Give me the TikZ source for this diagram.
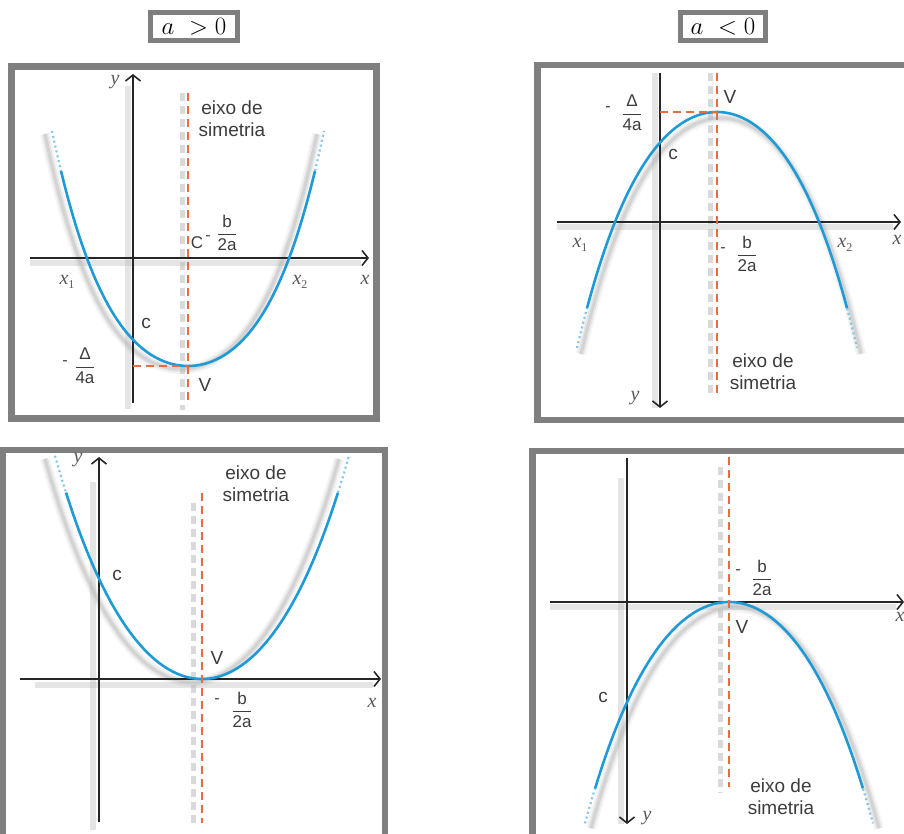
\documentclass[tikz,border=0pt]{standalone}
\usepackage{amsmath}
\usepackage{fontspec}
\setmainfont{Liberation Sans}
\newfontfamily\serifit{Liberation Serif}
\usetikzlibrary{arrows.meta}
\definecolor{frameGray}{HTML}{7F7F7F}
\definecolor{curveBlue}{HTML}{1E9AD6}
\definecolor{symOrange}{HTML}{EC6A3E}
\definecolor{labelGray}{HTML}{3C3C3C}
\definecolor{shadeGray}{HTML}{B4B4B4}
\newcommand\vfrac[2]{$\displaystyle\frac{\mbox{#1}}{\mbox{#2}}$}
\newcommand\rootlab[1]{x\raisebox{-4pt}{\fontsize{12}{12}\selectfont\upshape#1}}

\begin{document}
\begin{tikzpicture}[
    x=1pt, y=-1pt,
    panel/.style={draw=frameGray, line width=6.5pt},
    title/.style={draw=frameGray, line width=5pt, fill=white, minimum height=28pt, inner sep=0pt, font=\fontsize{28}{28}\selectfont},
    axis/.style={line width=1.6pt, draw=black!85, -{Straight Barb[length=6pt,width=15pt,line width=1.6pt]}},
    axshade/.style={line width=6pt, draw=shadeGray, opacity=0.35},
    curve/.style={draw=curveBlue, line width=2.6pt},
    curvetip/.style={draw=curveBlue!55, line width=2.2pt, dash pattern=on 2pt off 3pt},
    curveshade/.style={draw=shadeGray},
    symline/.style={draw=symOrange, line width=2.6pt, dash pattern=on 8pt off 5pt},
    symshade/.style={draw=shadeGray, line width=5pt, dash pattern=on 8pt off 5pt, opacity=0.5},
    lbl/.style={text=labelGray, font=\fontsize{19}{22}\selectfont, inner sep=0pt},
    var/.style={text=labelGray!85, font=\serifit\fontsize{20}{20}\selectfont\itshape, inner sep=0pt},
    frac/.style={text=labelGray, font=\fontsize{17}{19}\selectfont, inner sep=0pt},
    minus/.style={text=labelGray, font=\fontsize{16}{16}\selectfont, inner sep=0pt},
    declare function={bow(\u,\a,\b)=\a*\u*\u+\b*\u*\u*\u*\u;}
]
    \clip (0,0) rectangle (904,834);

    % Titles
    \node[title, minimum width=87pt] (pos) at (194,26.5) {$a\ >0$};
    \node[title, minimum width=85pt] (neg) at (723,26.5) {$a\ <0$};

    % Panel 1: a > 0, two roots
    \draw[panel] (11.5,66.5) rectangle (376.5,418.5);
    \coordinate (p1xl) at (30,258);  \coordinate (p1xr) at (369,258);
    \coordinate (p1yb) at (133,403); \coordinate (p1yt) at (133,74);
    \coordinate (p1st) at (188,93);  \coordinate (p1sb) at (188,405);
    \coordinate (p1vtx) at (188,366); \coordinate (p1yv) at (133,366);
    \draw[axshade] ([shift={(0,5)}]p1xl) -- ([shift={(-8,5)}]p1xr);
    \draw[axshade] ([shift={(-5,6)}]p1yb) -- ([shift={(-5,12)}]p1yt);
    \draw[symshade] ([xshift=-6]p1st) -- ([shift={(-6,5)}]p1sb);
    \foreach \w/\o in {10/0.15,6/0.25,3/0.35}
        \draw[curveshade, line width=\w pt, opacity=\o] plot[domain=-1.36:1.36, samples=60, smooth] ({181+100*\x},{369-bow(\x,79,26)});
    \draw[axis] (p1xl) -- (p1xr);
    \draw[axis] (p1yb) -- (p1yt);
    \draw[curve] plot[domain=-1.27:1.27, samples=60, smooth] ({188+100*\x},{366-bow(\x,79,26)});
    \draw[curvetip] plot[domain=-1.36:-1.27, samples=6] ({188+100*\x},{366-bow(\x,79,26)});
    \draw[curvetip] plot[domain=1.27:1.36, samples=6] ({188+100*\x},{366-bow(\x,79,26)});
    \draw[symline] (p1st) -- (p1sb);
    \draw[symline] (p1yv) -- (p1vtx);
    \node[lbl, align=center, anchor=north] (p1eixo) at (232,101) {eixo de\\simetria};
    \node[var] (p1y) at (115,82) {y};
    \node[var] (p1x) at (365,280) {x};
    \node[var] (p1x1) at (67,282) {\rootlab{1}};
    \node[var] (p1x2) at (300,282) {\rootlab{2}};
    \node[lbl] (p1c) at (146,323) {c};
    \node[lbl] (p1V) at (205,385) {V};
    \node[frac] (p1C) at (197,243) {C};
    \node[minus] (p1bm) at (208,238) {-};
    \node[frac] (p1b) at (227,233) {\vfrac{b}{2a}};
    \node[minus] (p1dm) at (65,363) {-};
    \node[frac] (p1d) at (85,366) {\vfrac{Δ}{4a}};

    % Panel 2: a < 0, two roots
    \draw[panel] (537.5,65) rectangle (912,420);
    \coordinate (p2xl) at (557,222);  \coordinate (p2xr) at (901,222);
    \coordinate (p2yt) at (660,73);   \coordinate (p2yb) at (660,408);
    \coordinate (p2st) at (717,73);   \coordinate (p2sb) at (717,393);
    \coordinate (p2vtx) at (717,112); \coordinate (p2yv) at (660,112);
    \draw[axshade] ([shift={(0,5)}]p2xl) -- ([shift={(-8,5)}]p2xr);
    \draw[axshade] ([shift={(-5,0)}]p2yt) -- ([shift={(-5,0)}]p2yb);
    \draw[symshade] ([xshift=-7]p2st) -- ([shift={(-7,2)}]p2sb);
    \foreach \w/\o in {10/0.15,6/0.25,3/0.35}
        \draw[curveshade, line width=\w pt, opacity=\o] plot[domain=-1.40:1.40, samples=60, smooth] ({721+100*\x},{118+bow(\x,89,16)});
    \draw[axis] (p2xl) -- (p2xr);
    \draw[axis] (p2yt) -- (p2yb);
    \draw[curve] plot[domain=-1.30:1.30, samples=60, smooth] ({717+100*\x},{112+bow(\x,89,16)});
    \draw[curvetip] plot[domain=-1.40:-1.30, samples=6] ({717+100*\x},{112+bow(\x,89,16)});
    \draw[curvetip] plot[domain=1.30:1.40, samples=6] ({717+100*\x},{112+bow(\x,89,16)});
    \draw[symline] (p2st) -- (p2sb);
    \draw[symline] (p2yv) -- (p2vtx);
    \node[lbl, align=center, anchor=north] (p2eixo) at (763,354) {eixo de\\simetria};
    \node[var] (p2y) at (635,398) {y};
    \node[var] (p2x) at (897,240) {x};
    \node[var] (p2x1) at (580,245) {\rootlab{1}};
    \node[var] (p2x2) at (845,245) {\rootlab{2}};
    \node[lbl] (p2c) at (673,154) {c};
    \node[lbl] (p2V) at (730,97) {V};
    \node[minus] (p2dm) at (608,109) {-};
    \node[frac] (p2d) at (632,113) {\vfrac{Δ}{4a}};
    \node[minus] (p2bm) at (723,250) {-};
    \node[frac] (p2b) at (747,254) {\vfrac{b}{2a}};

    % Panel 3: a > 0, double root
    \draw[panel] (3,450) rectangle (385,840);
    \coordinate (p3xl) at (20,679);   \coordinate (p3xr) at (381,679);
    \coordinate (p3yb) at (99,822);   \coordinate (p3yt) at (99,457);
    \coordinate (p3st) at (202,493);  \coordinate (p3sb) at (202,823);
    \draw[axshade] ([shift={(15,6)}]p3xl) -- ([shift={(-8,6)}]p3xr);
    \draw[axshade] ([shift={(-6,8)}]p3yb) -- ([shift={(-6,25)}]p3yt);
    \draw[symshade] ([shift={(-9,10)}]p3st) -- ([shift={(-9,5)}]p3sb);
    \foreach \w/\o in {10/0.15,6/0.25,3/0.35}
        \draw[curveshade, line width=\w pt, opacity=\o] plot[domain=-1.47:1.47, samples=60, smooth] ({192+100*\x},{682-bow(\x,86,8)});
    \draw[axis] (p3xl) -- (p3xr);
    \draw[axis] (p3yb) -- (p3yt);
    \draw[curve] plot[domain=-1.36:1.36, samples=60, smooth] ({202+100*\x},{679-bow(\x,86,8)});
    \draw[curvetip] plot[domain=-1.47:-1.36, samples=6] ({202+100*\x},{679-bow(\x,86,8)});
    \draw[curvetip] plot[domain=1.36:1.47, samples=6] ({202+100*\x},{679-bow(\x,86,8)});
    \draw[symline] (p3st) -- (p3sb);
    \node[lbl, align=center, anchor=north] (p3eixo) at (256,466) {eixo de\\simetria};
    \node[var] (p3y) at (78,460) {y};
    \node[var] (p3x) at (372,703) {x};
    \node[lbl] (p3c) at (117,575) {c};
    \node[lbl] (p3V) at (217,658) {V};
    \node[minus] (p3bm) at (217,701) {-};
    \node[frac] (p3b) at (242,710) {\vfrac{b}{2a}};

    % Panel 4: a < 0, double root
    \draw[panel] (532.5,451) rectangle (912,840);
    \coordinate (p4xl) at (550,602);  \coordinate (p4xr) at (904,602);
    \coordinate (p4yt) at (627,458);  \coordinate (p4yb) at (627,824);
    \coordinate (p4st) at (729,457);  \coordinate (p4sb) at (729,787);
    \draw[axshade] ([shift={(0,5)}]p4xl) -- ([shift={(-8,5)}]p4xr);
    \draw[axshade] ([shift={(-6,20)}]p4yt) -- ([shift={(-6,0)}]p4yb);
    \draw[symshade] ([shift={(-9,10)}]p4st) -- ([shift={(-9,6)}]p4sb);
    \foreach \w/\o in {10/0.15,6/0.25,3/0.35}
        \draw[curveshade, line width=\w pt, opacity=\o] plot[domain=-1.44:1.44, samples=60, smooth] ({735+100*\x},{607+bow(\x,86,10)});
    \draw[axis] (p4xl) -- (p4xr);
    \draw[axis] (p4yt) -- (p4yb);
    \draw[curve] plot[domain=-1.34:1.34, samples=60, smooth] ({729+100*\x},{602+bow(\x,86,10)});
    \draw[curvetip] plot[domain=-1.44:-1.34, samples=6] ({729+100*\x},{602+bow(\x,86,10)});
    \draw[curvetip] plot[domain=1.34:1.44, samples=6] ({729+100*\x},{602+bow(\x,86,10)});
    \draw[symline] (p4st) -- (p4sb);
    \node[lbl, align=center, anchor=north] (p4eixo) at (781,779) {eixo de\\simetria};
    \node[var] (p4y) at (647,818) {y};
    \node[var] (p4x) at (900,617) {x};
    \node[lbl] (p4c) at (603,697) {c};
    \node[lbl] (p4V) at (742,627) {V};
    \node[minus] (p4bm) at (738,572) {-};
    \node[frac] (p4b) at (762,578) {\vfrac{b}{2a}};
\end{tikzpicture}
\end{document}
